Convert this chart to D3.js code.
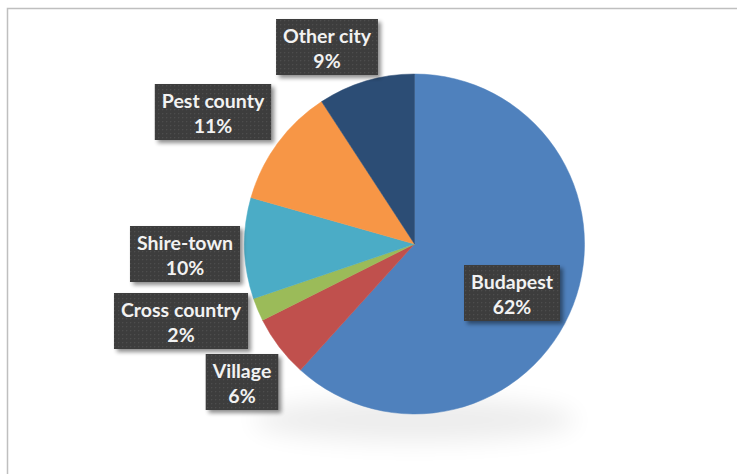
<!DOCTYPE html>
<html><head><meta charset="utf-8">
<script src="https://cdn.jsdelivr.net/npm/d3@7"></script>
<style>body{margin:0;background:#fff}svg{display:block}</style>
</head><body>
<svg id="c" width="737" height="474"></svg>
<script>
const categories = ["Budapest","Village","Cross country","Shire-town","Pest county","Other city"];
const values = [61.7, 5.9, 2.2, 9.6, 11.4, 9.2];
const colors = ["#4F81BD","#C0504D","#9BBB59","#4BACC6","#F79646","#2C4D75"];
// label box centres (layout)
const labelPos = [[512,293],[242,382],[181,321],[185,254],[213,112],[327,47]];

const svg = d3.select("#c");
const defs = svg.append("defs");
const pat = defs.append("pattern").attr("id","dots").attr("width",4).attr("height",4).attr("patternUnits","userSpaceOnUse");
pat.append("rect").attr("width",4).attr("height",4).attr("fill","#3c3c3c");
pat.append("rect").attr("x",1).attr("y",1).attr("width",1.3).attr("height",1.3).attr("fill","#4e4e4e");
const sh = defs.append("filter").attr("id","sh").attr("x","-20%").attr("y","-20%").attr("width","150%").attr("height","150%");
sh.append("feGaussianBlur").attr("in","SourceAlpha").attr("stdDeviation",2);
sh.append("feOffset").attr("dx",3).attr("dy",3).attr("result","b");
sh.append("feComponentTransfer").append("feFuncA").attr("type","linear").attr("slope",0.45);
const m = sh.append("feMerge"); m.append("feMergeNode"); m.append("feMergeNode").attr("in","SourceGraphic");
const blur = defs.append("filter").attr("id","blur").attr("x","-50%").attr("y","-50%").attr("width","200%").attr("height","200%");
blur.append("feGaussianBlur").attr("stdDeviation",12);

// border
svg.append("rect").attr("x",7.5).attr("y",8.5).attr("width",800).attr("height",600)
  .attr("fill","none").attr("stroke","#bfbfbf").attr("stroke-width",1.5);

const cx = 414.5, cy = 244, r = 170;
// soft shadow under pie
svg.append("ellipse").attr("cx",cx).attr("cy",cy+176).attr("rx",r*0.95).attr("ry",22)
  .attr("fill","#000").attr("opacity",0.07).attr("filter","url(#blur)");

const pie = d3.pie().sort(null).value(d=>d.v);
const data = categories.map((c,i)=>({c, v:values[i], i}));
const arcs = pie(data);
const arc = d3.arc().innerRadius(0).outerRadius(r);
const g = svg.append("g").attr("transform",`translate(${cx},${cy})`);
g.selectAll("path").data(arcs).join("path")
  .attr("d",arc).attr("fill",d=>colors[d.data.i])
  .attr("stroke",d=>colors[d.data.i]).attr("stroke-width",0.5);

const total = d3.sum(values);
const lg = svg.append("g").selectAll("g").data(data).join("g")
  .attr("transform",d=>`translate(${labelPos[d.i][0]},${labelPos[d.i][1]})`);
const box = lg.append("rect").attr("fill","url(#dots)").attr("filter","url(#sh)");
const t1 = lg.append("text").attr("text-anchor","middle").attr("y",-4).text(d=>d.c);
const t2 = lg.append("text").attr("text-anchor","middle").attr("y",21).text(d=>Math.round(d.v/total*100)+"%");
lg.selectAll("text").attr("fill","#f2f2f2").attr("font-family","Lato, 'Open Sans', sans-serif")
  .attr("font-weight","bold").attr("font-size","19.5px");
box.each(function(d){
  const w = this.parentNode.querySelector("text").getComputedTextLength() + 14;
  d3.select(this).attr("x",-w/2).attr("y",-28).attr("width",w).attr("height",56);
});
</script>
</body></html>
